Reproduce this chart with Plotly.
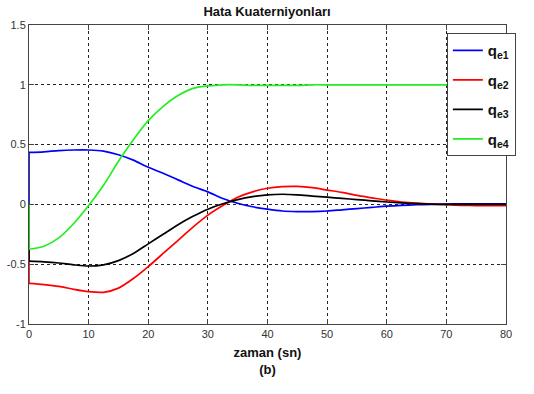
import plotly.graph_objects as go

# Time axis (s)
t = [0, 2.5, 5, 7.5, 10, 12.5, 15, 17.5, 20, 22.5, 25, 27.5, 30, 32.5, 35, 37.5,
     40, 42.5, 45, 47.5, 50, 52.5, 55, 57.5, 60, 62.5, 65, 67.5, 70, 72.5, 75, 77.5, 80]

# Error quaternion components
q_e1 = [0.435, 0.44, 0.45, 0.455, 0.455, 0.445, 0.415, 0.37, 0.31, 0.26, 0.205, 0.15,
        0.105, 0.05, 0.01, -0.02, -0.04, -0.055, -0.06, -0.06, -0.055, -0.045, -0.035,
        -0.025, -0.015, -0.008, -0.003, 0.0, 0.003, 0.005, 0.005, 0.005, 0.005]
q_e2 = [-0.66, -0.67, -0.685, -0.71, -0.73, -0.735, -0.70, -0.62, -0.52, -0.41, -0.30,
        -0.19, -0.09, -0.01, 0.06, 0.105, 0.135, 0.148, 0.15, 0.14, 0.12, 0.10, 0.075,
        0.055, 0.035, 0.02, 0.01, 0.003, -0.003, -0.008, -0.01, -0.01, -0.01]
q_e3 = [-0.475, -0.48, -0.49, -0.505, -0.515, -0.505, -0.47, -0.41, -0.33, -0.25, -0.17,
        -0.10, -0.04, 0.005, 0.04, 0.065, 0.08, 0.085, 0.08, 0.07, 0.06, 0.05, 0.04,
        0.03, 0.02, 0.012, 0.006, 0.002, 0.0, 0.0, 0.0, 0.0, 0.0]
q_e4 = [-0.375, -0.35, -0.28, -0.16, -0.01, 0.16, 0.36, 0.54, 0.70, 0.82, 0.91, 0.97,
        0.99, 1.0, 1.0, 0.995, 0.995, 0.995, 0.995, 1.0, 1.0, 1.0, 1.0, 1.0, 1.0, 1.0,
        1.0, 1.0, 1.0, 1.0, 1.0, 1.0, 1.0]

series = [
    ("<b>q<sub>e1</sub></b>", q_e1, "#0000ff"),
    ("<b>q<sub>e2</sub></b>", q_e2, "#ff0000"),
    ("<b>q<sub>e3</sub></b>", q_e3, "#000000"),
    ("<b>q<sub>e4</sub></b>", q_e4, "#22ee22"),
]

x_ticks = [0, 10, 20, 30, 40, 50, 60, 70, 80]
y_ticks = [-1, -0.5, 0, 0.5, 1, 1.5]

FONT = "Liberation Sans, Arial, sans-serif"

fig = go.Figure()
for i, (name, vals, color) in enumerate(series):
    # the simulation output starts from zero at t = 0: jump to the first sample
    fig.add_trace(go.Scatter(
        x=[t[0], t[0]], y=[0, vals[0]], mode="lines", showlegend=False,
        legendgroup=f"g{i}", hoverinfo="skip",
        line=dict(color=color, width=1.7),
    ))
    fig.add_trace(go.Scatter(
        x=t, y=vals, mode="lines", name=name,
        legendgroup=f"g{i}",
        line=dict(color=color, width=1.7, shape="spline", smoothing=0.8),
    ))

axis_common = dict(
    showline=True, linecolor="#444", linewidth=1, mirror="allticks",
    ticks="inside", ticklen=5, tickcolor="#444",
    showgrid=True, gridcolor="#222", griddash="dot", gridwidth=1,
    zeroline=False, automargin=False, layer="below traces",
    tickfont=dict(family=FONT, size=11, color="#333"),
)

fig.update_xaxes(range=[0, 80], tickvals=x_ticks, **axis_common,
                 title=dict(text="<b>zaman (sn)<br>(b)</b>",
                            font=dict(family=FONT, size=13, color="#111"),
                            standoff=8))
fig.update_yaxes(range=[-1, 1.5], tickvals=y_ticks,
                 ticktext=["-1", "-0.5", "0", "0.5", "1", "1.5"], **axis_common)

fig.update_layout(
    width=534, height=394,
    margin=dict(l=29, r=28, t=25, b=70),
    paper_bgcolor="white", plot_bgcolor="white",
    title=dict(text="<b>Hata Kuaterniyonları</b>", x=0.5, xanchor="center",
               y=0.97, yanchor="middle",
               font=dict(family=FONT, size=13, color="#111")),
    showlegend=True,
    legend=dict(x=0.876, y=0.973, xanchor="left", yanchor="top",
                bgcolor="white", bordercolor="#444", borderwidth=1,
                tracegroupgap=7,
                font=dict(family=FONT, size=15, color="#111"),
                itemwidth=30),
)

fig.write_html("out.html")
